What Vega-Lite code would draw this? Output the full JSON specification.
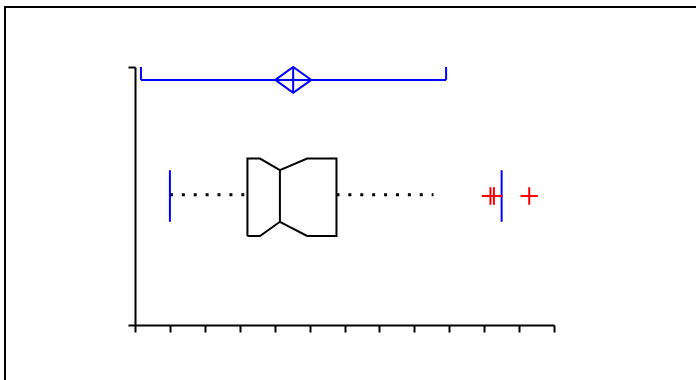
{
  "$schema": "https://vega.github.io/schema/vega-lite/v6.json",
  "width": 695,
  "height": 377,
  "autosize": {"type": "none"},
  "padding": {"left": 5, "top": 7, "right": -4, "bottom": -4},
  "background": "white",
  "config": {
    "view": {"stroke": "black", "strokeWidth": 2},
    "axis": {
      "domainColor": "black",
      "domainWidth": 2,
      "tickColor": "black",
      "tickWidth": 2,
      "tickSize": 7,
      "labels": false,
      "grid": false,
      "title": null
    }
  },
  "datasets": {
    "boxOutline": [
      {"i": 0, "x": 3.22, "y": 0.345},
      {"i": 1, "x": 3.22, "y": 0.645},
      {"i": 2, "x": 3.58, "y": 0.645},
      {"i": 3, "x": 4.15, "y": 0.6},
      {"i": 4, "x": 4.93, "y": 0.645},
      {"i": 5, "x": 5.77, "y": 0.645},
      {"i": 6, "x": 5.77, "y": 0.345},
      {"i": 7, "x": 4.93, "y": 0.345},
      {"i": 8, "x": 4.15, "y": 0.4},
      {"i": 9, "x": 3.58, "y": 0.345},
      {"i": 10, "x": 3.22, "y": 0.345}
    ],
    "median": [{"x": 4.15, "y": 0.4, "y2": 0.6}],
    "whiskers": [
      {"x": 1.0, "x2": 3.22, "y": 0.505},
      {"x": 5.77, "x2": 8.55, "y": 0.505}
    ],
    "whiskerCaps": [
      {"x": 1.0, "y": 0.4, "y2": 0.6},
      {"x": 10.5, "y": 0.4, "y2": 0.6}
    ],
    "outliers": [
      {"x": 10.18, "y": 0.5},
      {"x": 10.28, "y": 0.5},
      {"x": 11.29, "y": 0.5}
    ],
    "meanBar": [{"x": 0.17, "x2": 8.91, "y": 0.95}],
    "meanBarCaps": [
      {"x": 0.17, "y": 0.95, "y2": 1.0},
      {"x": 8.91, "y": 0.95, "y2": 1.0}
    ],
    "meanDiamond": [
      {"i": 0, "x": 4.02, "y": 0.95},
      {"i": 1, "x": 4.53, "y": 1.0},
      {"i": 2, "x": 5.05, "y": 0.95},
      {"i": 3, "x": 4.53, "y": 0.9},
      {"i": 4, "x": 4.02, "y": 0.95}
    ],
    "meanTick": [{"x": 4.53, "y": 0.9, "y2": 1.0}]
  },
  "layer": [
    {
      "data": {"name": "boxOutline"},
      "mark": {"type": "line", "stroke": "black", "strokeWidth": 2, "strokeJoin": "miter"},
      "encoding": {
        "x": {
          "field": "x",
          "type": "quantitative",
          "scale": {"domain": [0, 12], "range": [130, 549], "nice": false, "zero": false},
          "axis": {"orient": "bottom", "offset": -59, "values": [0, 1, 2, 3, 4, 5, 6, 7, 8, 9, 10, 11, 12]}
        },
        "y": {
          "field": "y",
          "type": "quantitative",
          "scale": {"domain": [0, 1], "range": [318, 60], "nice": false, "zero": false},
          "axis": {"orient": "left", "offset": -130, "values": [0, 1]}
        },
        "order": {"field": "i", "type": "quantitative"}
      }
    },
    {
      "data": {"name": "median"},
      "mark": {"type": "rule", "stroke": "black", "strokeWidth": 2},
      "encoding": {
        "x": {"field": "x", "type": "quantitative"},
        "y": {"field": "y", "type": "quantitative"},
        "y2": {"field": "y2"}
      }
    },
    {
      "data": {"name": "whiskers"},
      "mark": {"type": "rule", "stroke": "black", "strokeWidth": 3, "strokeDash": [3, 8.9]},
      "encoding": {
        "x": {"field": "x", "type": "quantitative"},
        "x2": {"field": "x2"},
        "y": {"field": "y", "type": "quantitative"}
      }
    },
    {
      "data": {"name": "whiskerCaps"},
      "mark": {"type": "rule", "stroke": "#0000ff", "strokeWidth": 2},
      "encoding": {
        "x": {"field": "x", "type": "quantitative"},
        "y": {"field": "y", "type": "quantitative"},
        "y2": {"field": "y2"}
      }
    },
    {
      "data": {"name": "outliers"},
      "mark": {
        "type": "point",
        "shape": "M-1,0H1M0,-1V1",
        "size": 300,
        "filled": false,
        "stroke": "#ff0000",
        "strokeWidth": 2,
        "opacity": 1
      },
      "encoding": {
        "x": {"field": "x", "type": "quantitative"},
        "y": {"field": "y", "type": "quantitative"}
      }
    },
    {
      "data": {"name": "meanBar"},
      "mark": {"type": "rule", "stroke": "#0000ff", "strokeWidth": 2},
      "encoding": {
        "x": {"field": "x", "type": "quantitative"},
        "x2": {"field": "x2"},
        "y": {"field": "y", "type": "quantitative"}
      }
    },
    {
      "data": {"name": "meanBarCaps"},
      "mark": {"type": "rule", "stroke": "#0000ff", "strokeWidth": 2},
      "encoding": {
        "x": {"field": "x", "type": "quantitative"},
        "y": {"field": "y", "type": "quantitative"},
        "y2": {"field": "y2"}
      }
    },
    {
      "data": {"name": "meanDiamond"},
      "mark": {"type": "line", "stroke": "#0000ff", "strokeWidth": 2, "strokeJoin": "miter"},
      "encoding": {
        "x": {"field": "x", "type": "quantitative"},
        "y": {"field": "y", "type": "quantitative"},
        "order": {"field": "i", "type": "quantitative"}
      }
    },
    {
      "data": {"name": "meanTick"},
      "mark": {"type": "rule", "stroke": "#0000ff", "strokeWidth": 2},
      "encoding": {
        "x": {"field": "x", "type": "quantitative"},
        "y": {"field": "y", "type": "quantitative"},
        "y2": {"field": "y2"}
      }
    }
  ]
}
